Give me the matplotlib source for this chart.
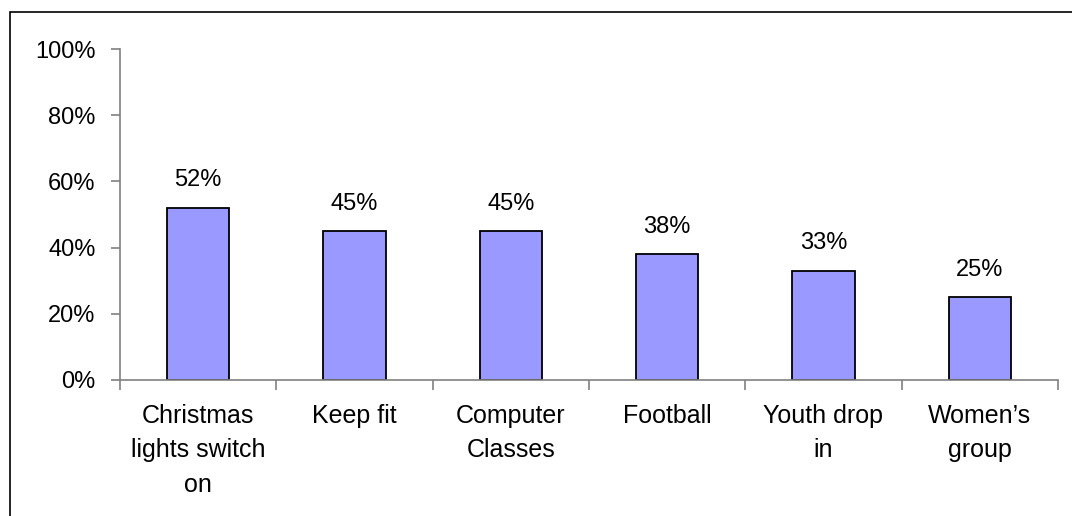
import matplotlib.pyplot as plt
from matplotlib.patches import Rectangle

# datos
categories = ["Christmas\nlights switch\non", "Keep fit", "Computer\nClasses",
              "Football", "Youth drop\nin", "Women\u2019s\ngroup"]
values = [52, 45, 45, 38, 33, 25]
y_ticks = [0, 20, 40, 60, 80, 100]

plt.rcParams['font.family'] = ['Liberation Sans', 'DejaVu Sans']

fig = plt.figure(figsize=(10.72, 5.16), dpi=100)
W, H = 1072, 516

# marco exterior (solo se ven izquierda y arriba)
fig.add_artist(Rectangle((10 / W, -0.1), 1.2, (H - 12) / H + 0.1,
                         transform=fig.transFigure, fill=False,
                         edgecolor='black', linewidth=1.2))

ax = fig.add_axes([120 / W, (H - 380) / H, (1058 - 120) / W, (380 - 49) / H])
x = range(len(categories))
bars = ax.bar(x, values, width=0.4, color='#9999FF', edgecolor='black', linewidth=1.3)

fs = 17
for xi, v in zip(x, values):
    ax.text(xi, v + 5, f"{v}%", ha='center', va='bottom', fontsize=fs)

ax.set_xlim(-0.5, len(categories) - 0.5)
ax.set_ylim(0, 100)
ax.set_yticks(y_ticks)
ax.set_yticklabels([f"{t}%" for t in y_ticks], fontsize=fs)

# ticks del eje x en los limites de categoria
ax.set_xticks([i - 0.5 for i in range(len(categories) + 1)], minor=False)
ax.set_xticklabels([])
ax.set_xticks(list(x), minor=True)
ax.set_xticklabels(categories, minor=True, fontsize=18, linespacing=1.55)
ax.tick_params(axis='x', which='minor', length=0, pad=17)
ax.tick_params(axis='x', which='major', length=7, color='#808080', width=1.2)
ax.tick_params(axis='y', length=6.5, color='#808080', width=1.2, pad=11)

for s in ['top', 'right']:
    ax.spines[s].set_visible(False)
for s in ['left', 'bottom']:
    ax.spines[s].set_color('#808080')
    ax.spines[s].set_linewidth(1.2)

fig.savefig('out.png', dpi=100)
